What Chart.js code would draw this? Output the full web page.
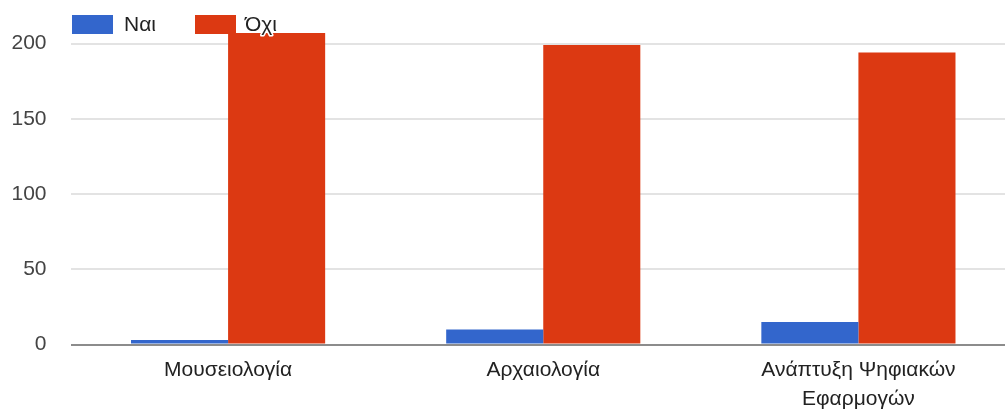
<!DOCTYPE html>
<html>
<head>
<meta charset="utf-8">
<script src="https://cdn.jsdelivr.net/npm/chart.js@4/dist/chart.umd.min.js"></script>
<style>
  html, body { margin: 0; padding: 0; background: #fff; overflow: hidden; }
  #wrap { position: relative; width: 1016px; height: 414px; }
</style>
</head>
<body>
<div id="wrap"><canvas id="c"></canvas></div>
<script>
// Responses per field of interest
const categories = ['Μουσειολογία', 'Αρχαιολογία', ['Ανάπτυξη Ψηφιακών', 'Εφαρμογών']];
const seriesNames = ['Ναι', 'Όχι'];
const yesValues = [3, 10, 15];
const noValues = [207, 199, 194];
const yTicks = [0, 50, 100, 150, 200];

const FONT = '"Liberation Sans", Arial, sans-serif';

// Legend drawn at the top-left, over the plot
const topLegend = {
  id: 'topLegend',
  afterDatasetsDraw(chart) {
    const ctx = chart.ctx;
    const items = [
      { x: 72, textX: 124 },
      { x: 195, textX: 245 }
    ];
    ctx.save();
    ctx.font = '21px ' + FONT;
    ctx.textBaseline = 'middle';
    chart.data.datasets.forEach((ds, i) => {
      const it = items[i];
      ctx.fillStyle = ds.backgroundColor;
      ctx.fillRect(it.x, 15, 41, 19);
      ctx.lineJoin = 'round';
      ctx.strokeStyle = '#ffffff';
      ctx.lineWidth = 3;
      ctx.strokeText(ds.label, it.textX, 25);
      ctx.fillStyle = '#222222';
      ctx.fillText(ds.label, it.textX, 25);
    });
    ctx.restore();
  }
};

new Chart(document.getElementById('c'), {
  type: 'bar',
  data: {
    labels: categories,
    datasets: [
      { label: seriesNames[0], data: yesValues, backgroundColor: '#3366cc' },
      { label: seriesNames[1], data: noValues, backgroundColor: '#dc3912' }
    ]
  },
  options: {
    responsive: true,
    maintainAspectRatio: false,
    animation: false,
    categoryPercentage: 0.616,
    barPercentage: 1.0,
    layout: { padding: { top: 28.5, right: 0, bottom: 0, left: 0 } },
    plugins: { legend: { display: false }, tooltip: { enabled: false } },
    scales: {
      x: {
        grid: { display: false, drawTicks: false },
        border: { display: false },
        ticks: {
          color: '#222222',
          font: { family: FONT, size: 21, lineHeight: 1.34 },
          padding: 12,
          maxRotation: 0,
          autoSkip: false
        },
        afterFit(scale) {
          scale.height = 69.5;
          scale.paddingLeft = 0;
          scale.paddingRight = 0;
        }
      },
      y: {
        min: 0,
        max: 210,
        afterBuildTicks(scale) { scale.ticks = yTicks.map(v => ({ value: v })); },
        afterFit(scale) {
          scale.width = 70.5;
          scale.paddingTop = 0;
          scale.paddingBottom = 0;
        },
        grid: {
          drawTicks: false,
          lineWidth: 2,
          color: ctx => (ctx.tick && ctx.tick.value === 0) ? '#8c8c8c' : '#e3e3e3'
        },
        border: { display: false },
        ticks: {
          color: '#444444',
          font: { family: FONT, size: 21 },
          padding: 24
        }
      }
    }
  },
  plugins: [topLegend]
});
</script>
</body>
</html>
